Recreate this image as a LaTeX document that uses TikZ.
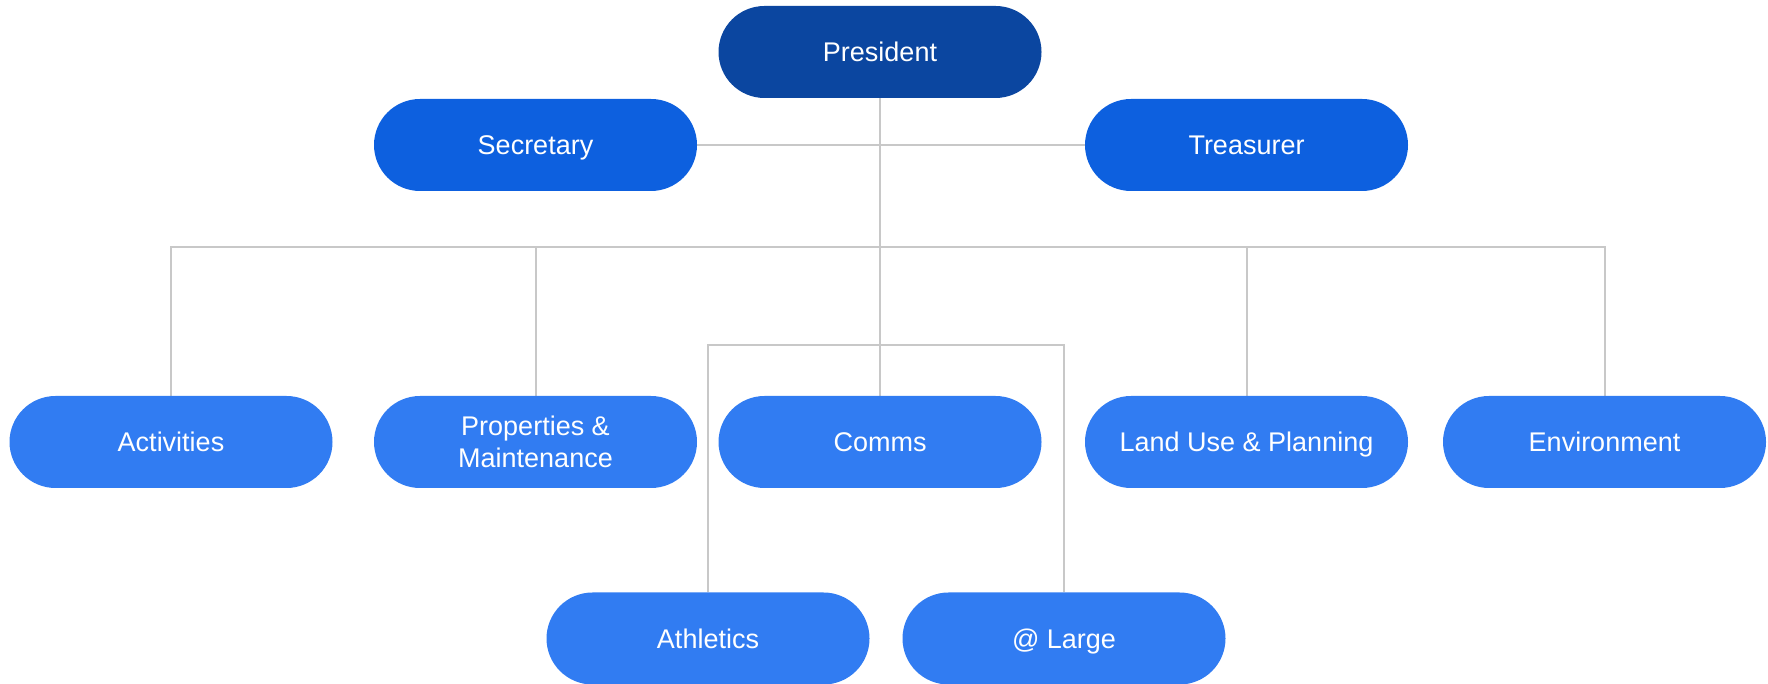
\documentclass[tikz,border=0pt]{standalone}
\usepackage{fontspec}
\setmainfont{Liberation Sans}
\usetikzlibrary{backgrounds}
\definecolor{presblue}{HTML}{0B46A0}
\definecolor{offblue}{HTML}{0D60DF}
\definecolor{combblue}{HTML}{317CF2}
\definecolor{linegray}{HTML}{C8C8C8}
\tikzset{
  box/.style={rectangle, rounded corners=46pt, minimum width=323pt, minimum height=92pt,
    inner sep=0pt, text=white, align=center,
    font=\fontsize{27}{32}\selectfont},
  oneline/.style={text height=24pt, text depth=4.6pt},
  pbox/.style={box, oneline, fill=presblue},
  obox/.style={box, oneline, fill=offblue},
  cbox/.style={box, fill=combblue},
  conn/.style={draw=linegray, line width=2pt}
}
\begin{document}
\begin{tikzpicture}[x=1pt,y=1pt]
\useasboundingbox (0,0) rectangle (1768,684);
\node[pbox] (pres) at (880,632) {President};
\node[obox] (sec) at (535.5,539) {Secretary};
\node[obox] (tre) at (1246.5,539) {Treasurer};
\node[cbox, oneline] (act) at (171,242) {Activities};
\node[cbox] (prop) at (535.5,242) {Properties \&\\Maintenance};
\node[cbox, oneline] (comms) at (880,242) {Comms};
\node[cbox, oneline] (land) at (1246.5,242) {Land Use \& Planning};
\node[cbox, oneline] (env) at (1604.5,242) {Environment};
\node[cbox, oneline] (ath) at (708,45.5) {Athletics};
\node[cbox, oneline] (large) at (1064,45.5) {@ Large};
\coordinate (bus) at (880,437);
\coordinate (bus2) at (880,339);
\begin{scope}[on background layer]
\draw[conn] (pres.south) -- (comms.north);
\draw[conn] (sec.east) -- (tre.west);
\draw[conn] (act.north) |- (bus) -| (env.north);
\draw[conn] (prop.north) -- (prop.north |- bus);
\draw[conn] (land.north) -- (land.north |- bus);
\draw[conn] (ath.north) |- (bus2) -| (large.north);
\end{scope}
\end{tikzpicture}
\end{document}
